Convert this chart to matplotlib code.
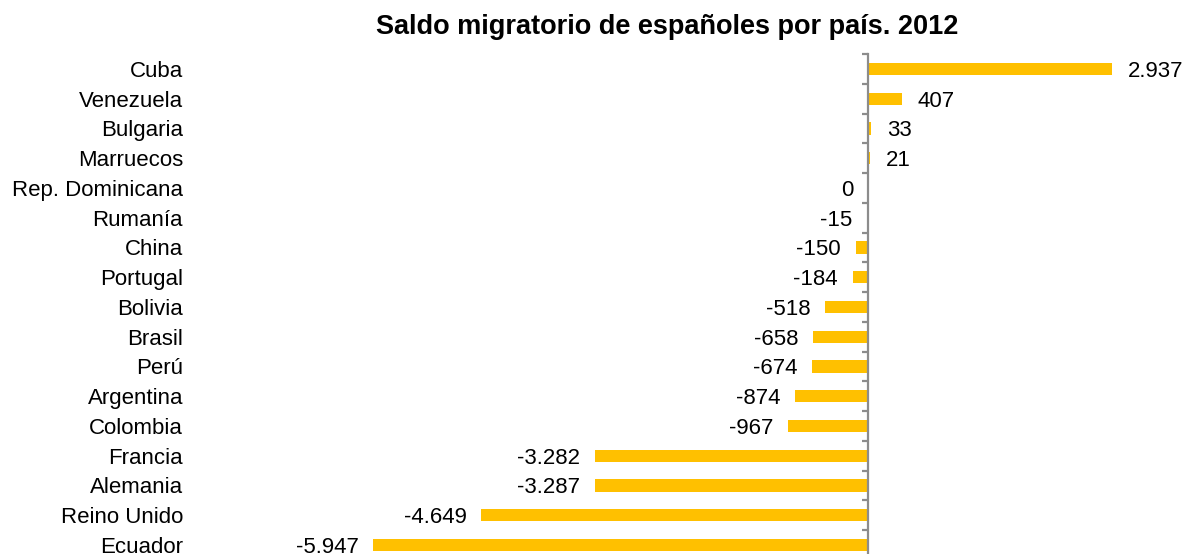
import matplotlib
matplotlib.use("Agg")
import matplotlib.pyplot as plt
from matplotlib import transforms

countries = ["Cuba", "Venezuela", "Bulgaria", "Marruecos", "Rep. Dominicana", "Rumanía",
             "China", "Portugal", "Bolivia", "Brasil", "Perú", "Argentina", "Colombia",
             "Francia", "Alemania", "Reino Unido", "Ecuador"]
values = [2937, 407, 33, 21, 0, -15, -150, -184, -518, -658, -674, -874, -967,
          -3282, -3287, -4649, -5947]
title = "Saldo migratorio de españoles por país. 2012"

W, H = 1192, 554
DPI = 100
plt.rcParams['font.family'] = ['Liberation Sans', 'DejaVu Sans']

fig = plt.figure(figsize=(W / DPI, H / DPI), dpi=DPI)

# layout in pixels
ax_left_px, ax_right_px = 190, 1185
zero_px = 868
px_per_unit = 0.0832
top_px = 54.1
row_px = 29.75
n = len(countries)
bottom_px = top_px + n * row_px
FS = 16
base_dy = -0.716 * FS / 2  # points: put cap-height centre on the row centre

ax = fig.add_axes([ax_left_px / W, (H - bottom_px) / H,
                   (ax_right_px - ax_left_px) / W, (bottom_px - top_px) / H])
ax.set_xlim(-(zero_px - ax_left_px) / px_per_unit, (ax_right_px - zero_px) / px_per_unit)
ax.set_ylim(n - 0.5, -0.5)

ypos = list(range(n))
ax.barh(ypos, values, height=0.41, color="#FFC000", zorder=2)

for s in ["top", "right", "bottom"]:
    ax.spines[s].set_visible(False)
ax.spines["left"].set_position(("data", 0))
ax.spines["left"].set_color("#8C8C8C")
ax.spines["left"].set_linewidth(1.6)
ax.spines["left"].set_zorder(3)
ax.set_xticks([])
ax.set_yticks(ypos)
ax.set_yticklabels([])
ax.tick_params(axis="y", which="major", length=0)
ax.set_yticks([i - 0.5 for i in range(n + 1)], minor=True)
ax.tick_params(axis="y", which="minor", direction="out", length=4, width=1.6,
               color="#8C8C8C")

label_tr = transforms.blended_transform_factory(fig.transFigure, ax.transData)
for i, c in enumerate(countries):
    ax.annotate(c, (183 / W, i), xycoords=label_tr, xytext=(0, base_dy),
                textcoords="offset points", ha="right", va="baseline",
                fontsize=FS, color="black")

for i, v in enumerate(values):
    txt = f"{v:,}".replace(",", ".")
    if v > 0:
        ax.annotate(txt, (v, i), xytext=(11.5, base_dy), textcoords="offset points",
                    ha="left", va="baseline", fontsize=FS)
    else:
        ax.annotate(txt, (min(v, 0), i), xytext=(-10.5, base_dy), textcoords="offset points",
                    ha="right", va="baseline", fontsize=FS)

fig.text(667 / W, 1 - 34 / H, title, ha="center", va="baseline", fontsize=19.5,
         fontweight="bold")

fig.savefig("out.png", dpi=DPI)
